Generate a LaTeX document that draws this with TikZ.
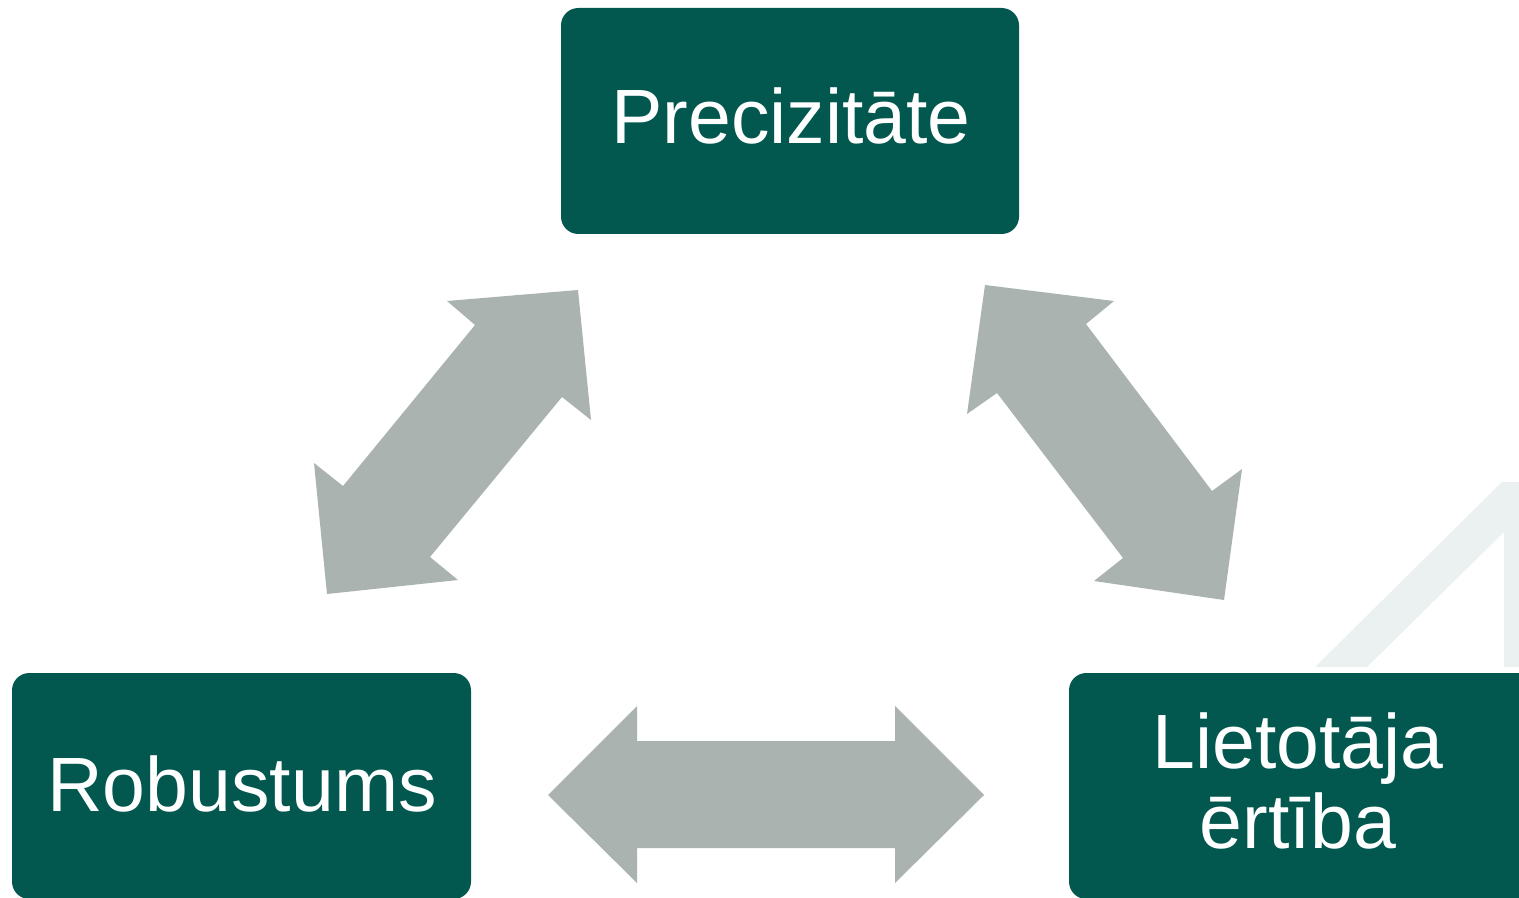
\documentclass[tikz,border=0pt]{standalone}
\usepackage{fontspec}
\setmainfont{Liberation Sans}
\definecolor{boxgreen}{HTML}{02574F}
\definecolor{arrowgray}{HTML}{AAB3B0}
\definecolor{faint}{HTML}{EBF1F0}
\begin{document}
\begin{tikzpicture}[x=0.75pt,y=-0.75pt,
  box/.style={fill=boxgreen, draw=none, rounded corners=13pt},
  lbl/.style={text=white, font=\fontsize{57.75}{60}\selectfont, inner sep=0pt, align=center},
  dbl/.style={fill=arrowgray, draw=none}]
\useasboundingbox (0,0) rectangle (1519,898);
\clip (0,0) rectangle (1519,898);
% faint background shape
\fill[faint, even odd rule] (1315,667) -- (1502,482) -- (1525,482) -- (1525,667) -- cycle
  (1367,667) -- (1504,532) -- (1504,667) -- cycle;
% boxes
\node[box, minimum width=458*0.75pt, minimum height=226*0.75pt] (P) at (790,121) {};
\node[box, minimum width=459*0.75pt, minimum height=226*0.75pt] (R) at (241.5,786) {};
\node[box, minimum width=470*0.75pt, minimum height=226*0.75pt] (L) at (1304,786) {};
% texts
\node[lbl, anchor=base] (Pt) at (791,144) {Precizitāte};
\node[lbl, anchor=base] (Rt) at (242,811) {Robustums};
\node[lbl] (Lt) at (1298,781) {Lietotāja\\ērtība};
% double arrows
\fill[dbl] (578,290) -- (591,420) -- (562,397) -- (430,557) -- (458,580) -- (327,594)
  -- (314,463) -- (343,486) -- (475,325) -- (447,301) -- cycle;
\fill[dbl] (985,285) -- (1114,301) -- (1086,324) -- (1212,491) -- (1242,469) -- (1224,600)
  -- (1094,581) -- (1123,558) -- (997,393) -- (967,414) -- cycle;
\fill[dbl] (548,795) -- (637,706) -- (637,741) -- (895,741) -- (895,706) -- (984,795)
  -- (895,883) -- (895,848) -- (637,848) -- (637,883) -- cycle;
\end{tikzpicture}
\end{document}
